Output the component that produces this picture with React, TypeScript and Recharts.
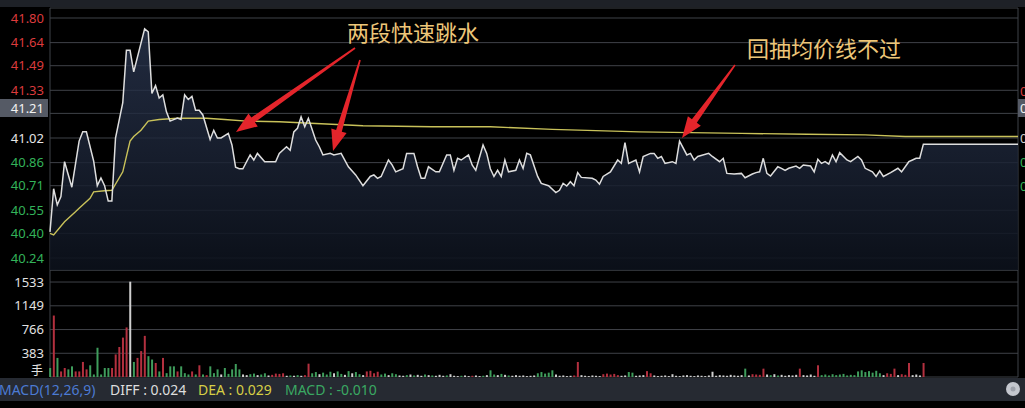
import React from "react";
import { ComposedChart, Area, Line, Bar, Cell, XAxis, YAxis, CartesianGrid } from "recharts";

// minute index: 0 = 9:30, 240 = 15:00, 240-266 = after-hours fixed price
const timeTicks = [0, 30, 60, 90, 120, 150, 180, 210, 240, 266];

const preClose = 41.02;
const priceTicks = [41.8, 41.64, 41.49, 41.33, 41.18, 41.02, 40.86, 40.71, 40.55, 40.4, 40.24];
const hiddenTick = 41.18; // covered by the 41.21 marker
const markerPrice = "41.21";

const pricePoints: [number, number][] = [
  [0, 40.41], [1, 40.69], [2, 40.585], [3, 40.64], [4, 40.866], [6, 40.7], [8, 41.0], [9, 41.06], [10, 41.06],
  [12, 40.87], [13, 40.71], [14, 40.76], [15, 40.71], [16, 40.61], [17, 40.61], [18, 41.02], [20, 41.25],
  [21, 41.59], [22, 41.59], [23, 41.45], [26, 41.73], [27, 41.71], [28, 41.31], [29, 41.36], [30, 41.28],
  [31, 41.3], [32, 41.19], [33, 41.13], [35, 41.15], [36, 41.14], [37, 41.3], [38, 41.27], [39, 41.29],
  [40, 41.2], [41, 41.2], [42, 41.17], [44, 41.01], [45, 41.07], [46, 41.02], [47, 41.02], [49, 41.05],
  [50, 40.975], [51, 40.83], [52, 40.82], [53, 40.82], [55, 40.91], [56, 40.877], [57, 40.92], [59, 40.866],
  [62, 40.866], [63, 40.92], [65, 40.963], [66, 40.94], [67, 41.06], [68, 41.083], [69, 41.158], [70, 41.093],
  [71, 41.148], [73, 41.007], [74, 40.963], [75, 40.91], [77, 40.92], [78, 40.91], [80, 40.92], [82, 40.833],
  [84, 40.78], [86, 40.71], [88, 40.77], [89, 40.78], [90, 40.758], [91, 40.77], [93, 40.877], [94, 40.845],
  [95, 40.8], [97, 40.82], [98, 40.92], [100, 40.92], [101, 40.833], [102, 40.758], [103, 40.758], [104, 40.833],
  [106, 40.8], [107, 40.8], [109, 40.91], [110, 40.91], [111, 40.81], [112, 40.888], [113, 40.877], [115, 40.91],
  [116, 40.845], [117, 40.81], [119, 40.975], [120, 40.92], [121, 40.82], [122, 40.77], [123, 40.81], [124, 40.77],
  [125, 40.877], [126, 40.8], [128, 40.81], [129, 40.877], [130, 40.823], [131, 40.92], [132, 40.91], [134, 40.77],
  [135, 40.725], [137, 40.71], [139, 40.665], [140, 40.68], [141, 40.725], [142, 40.708], [143, 40.736], [144, 40.71],
  [145, 40.795], [146, 40.764], [149, 40.758], [150, 40.747], [151, 40.72], [152, 40.77], [154, 40.8], [156, 40.877],
  [157, 40.855], [158, 40.99], [159, 40.855], [161, 40.877], [162, 40.8], [163, 40.9], [165, 40.92], [166, 40.92],
  [167, 40.888], [168, 40.9], [169, 40.855], [171, 40.866], [172, 40.855], [173, 41.0], [175, 40.91], [176, 40.92],
  [177, 40.877], [178, 40.9], [181, 40.92], [182, 40.9], [184, 40.866], [185, 40.888], [186, 40.79], [188, 40.786],
  [190, 40.79], [191, 40.762], [193, 40.786], [194, 40.795], [195, 40.8], [196, 40.888], [197, 40.79], [198, 40.773],
  [200, 40.833], [201, 40.823], [202, 40.81], [203, 40.823], [205, 40.838], [206, 40.823], [207, 40.845], [209, 40.838],
  [210, 40.8], [211, 40.882], [212, 40.855], [213, 40.866], [214, 40.85], [215, 40.91], [216, 40.866], [217, 40.925],
  [219, 40.877], [220, 40.866], [222, 40.9], [223, 40.877], [224, 40.823], [226, 40.8], [227, 40.77], [228, 40.807],
  [229, 40.77], [231, 40.795], [233, 40.823], [234, 40.8], [236, 40.866], [237, 40.877], [238, 40.888], [239, 40.888],
  [240, 40.98], [266, 40.98],
];

const avgPoints: [number, number][] = [
  [0, 40.4], [1, 40.39], [4, 40.476], [7, 40.54], [8, 40.563], [11, 40.628], [12, 40.67], [15, 40.677],
  [17, 40.68], [20, 40.8], [21, 40.9], [22, 41.0], [23, 41.03], [25, 41.07], [27, 41.13], [30, 41.14],
  [35, 41.148], [43, 41.148], [48, 41.14], [54, 41.13], [63, 41.126], [86, 41.1], [105, 41.093], [121, 41.093],
  [138, 41.076], [162, 41.06], [190, 41.05], [208, 41.044], [224, 41.04], [235, 41.03], [240, 41.03], [266, 41.03],
];

const volTicks = [383, 766, 1149, 1533];
// volume per minute, 0..240
const volumes = [
  145, 992, 308, 90, 145, 123, 172, 90, 90, 243,
  123, 189, 41, 472, 41, 145, 145, 145, 364, 484,
  636, 800, 1538, 243, 308, 418, 664, 336, 282, 226,
  90, 308, 62, 172, 172, 90, 172, 62, 41, 90,
  41, 189, 41, 30, 172, 62, 123, 41, 145, 50,
  123, 210, 123, 41, 30, 45, 55, 30, 40, 60,
  25, 35, 55, 50, 60, 20, 25, 20, 30, 20,
  30, 215, 60, 80, 45, 70, 40, 85, 60, 90,
  50, 35, 95, 60, 80, 45, 30, 90, 100, 60,
  85, 40, 55, 30, 60, 45, 25, 20, 30, 40,
  25, 35, 20, 40, 30, 25, 20, 35, 20, 25,
  45, 20, 15, 20, 25, 15, 20, 25, 15, 20,
  30, 108, 40, 30, 50, 35, 25, 20, 30, 20,
  25, 15, 20, 25, 60, 80, 55, 70, 108, 40,
  20, 25, 15, 20, 25, 242, 30, 20, 15, 25,
  20, 15, 45, 55, 40, 50, 30, 20, 25, 80,
  70, 20, 25, 30, 95, 60, 25, 15, 20, 25,
  15, 45, 20, 15, 25, 30, 20, 15, 25, 20,
  15, 25, 85, 20, 30, 25, 20, 35, 25, 20,
  30, 135, 25, 45, 40, 35, 135, 40, 30, 45,
  25, 35, 20, 30, 25, 35, 135, 30, 25, 40,
  20, 189, 30, 40, 25, 45, 30, 40, 50, 25,
  35, 30, 90, 108, 80, 95, 70, 100, 60, 30,
  60, 50, 135, 30, 45, 35, 226, 30, 40, 25,
  226,
];
// r = up, g = down, w = flat
const volDirs = [
  "grgrrggrrr", "rggggggrrr", "rrwgrrrggr", "grgggrgggr", "grgrgggwgg",
  "gggwwggwgg", "wrrrrwgwgw", "rrggwgggwg", "gwgwggwrrr", "rggwggwwgw",
  "gwwgwgwwwg", "wwwgwwrwwg", "wggwgwgwww", "wwwwgggggw", "wwwwrrwwww",
  "wwrrrrrwwg", "gwwwrrwwww", "wwwwwwwwww", "wwwwwwwwww", "wgwrrrrwgw",
  "gwwwwwrwww", "wrgggggggg", "gggggggggw", "rrrwrrrwww", "r",
].join("");

const macdItems = [
  { text: "MACD(12,26,9)", color: "#4c7bd3", x: -1 },
  { text: "DIFF : 0.024", color: "#dedede", x: 110 },
  { text: "DEA : 0.029", color: "#d6cf45", x: 198 },
  { text: "MACD : -0.010", color: "#3aa862", x: 285 },
];

const notes = [
  { text: "两段快速跳水", x: 347, y: 41 },
  { text: "回抽均价线不过", x: 747, y: 57 },
];
const arrows = [
  { from: [355, 48], to: [236, 132] },
  { from: [360, 60], to: [333, 151] },
  { from: [735, 65], to: [682, 138] },
];

const lineMinutes = Array.from(
  new Set([...pricePoints.map((p) => p[0]), ...avgPoints.map((p) => p[0])])
).sort((a, b) => a - b);
const priceMap = new Map(pricePoints);
const avgMap = new Map(avgPoints);
const lineData = lineMinutes.map((m) => ({
  m,
  price: priceMap.has(m) ? priceMap.get(m) : null,
  avg: avgMap.has(m) ? avgMap.get(m) : null,
}));
const volData = volumes.map((v, i) => ({ m: i, vol: v, dir: volDirs[i] }));

const RED = "#dc3b3d";
const GREEN = "#33b35a";
const GRID = "#3f4248";
const volColor: Record<string, string> = { r: "#b3303f", g: "#3f9d5c", w: "#cfcfcf" };

const PriceTick = (props: any) => {
  const { y, payload } = props;
  const v = payload.value as number;
  if (Math.abs(v - hiddenTick) < 1e-6) return null;
  const fill = Math.abs(v - preClose) < 1e-6 ? "#e6e6e6" : v > preClose ? RED : GREEN;
  return (
    <text x={44} y={y} dy={4.5} textAnchor="end" fill={fill} fontSize={13} fontFamily="'Noto Sans', sans-serif">
      {v.toFixed(2)}
    </text>
  );
};

const VolTick = (props: any) => {
  const { y, payload } = props;
  return (
    <text x={44} y={y} dy={4.5} textAnchor="end" fill="#e2e2e2" fontSize={13} fontFamily="'Noto Sans', sans-serif">
      {payload.value}
    </text>
  );
};

function arrowPoints(from: number[], to: number[]) {
  const [fx, fy] = from;
  const [tx, ty] = to;
  const len = Math.hypot(tx - fx, ty - fy);
  const ux = (tx - fx) / len;
  const uy = (ty - fy) / len;
  const nx = -uy;
  const ny = ux;
  const head = 21, hw = 8, bw = 3, tw = 0.8;
  const bx = tx - ux * head;
  const by = ty - uy * head;
  const pts = [
    [fx + nx * tw, fy + ny * tw],
    [bx + nx * bw, by + ny * bw],
    [bx + nx * hw, by + ny * hw],
    [tx, ty],
    [bx - nx * hw, by - ny * hw],
    [bx - nx * bw, by - ny * bw],
    [fx - nx * tw, fy - ny * tw],
  ];
  return pts.map((p) => `${p[0].toFixed(1)},${p[1].toFixed(1)}`).join(" ");
}

const rightMarks = [
  { text: "0.76%", color: RED, y: 91 },
  { text: "0.00%", color: "#d0d0d0", y: 138 },
  { text: "0.39%", color: GREEN, y: 162 },
  { text: "0.76%", color: GREEN, y: 186 },
];

export default function App() {
  return (
    <div
      style={{
        position: "absolute",
        left: 0,
        top: 0,
        width: 1025,
        height: 408,
        background: "#000",
        overflow: "hidden",
        fontFamily: "'Noto Sans', sans-serif",
      }}
    >
      <div style={{ position: "absolute", left: 0, top: 0, width: 1025, height: 7, background: "#1e2127" }} />

      <div style={{ position: "absolute", left: 0, top: 0 }}>
        <ComposedChart width={1025} height={272} data={lineData} margin={{ top: 8, right: 7, bottom: 2, left: 0 }}>
          <defs>
            <linearGradient id="priceFill" x1="0" y1="0" x2="0" y2="1">
              <stop offset="0%" stopColor="#2c3853" stopOpacity={0.75} />
              <stop offset="100%" stopColor="#0c111b" stopOpacity={0.9} />
            </linearGradient>
          </defs>
          <CartesianGrid stroke={GRID} />
          <XAxis
            dataKey="m"
            type="number"
            domain={[0, 266]}
            ticks={timeTicks}
            height={0}
            tick={false}
            axisLine={false}
            tickLine={false}
          />
          <YAxis
            domain={[40.162, 41.865]}
            allowDataOverflow
            ticks={priceTicks}
            interval={0}
            width={50}
            axisLine={false}
            tickLine={false}
            tick={(p: any) => <PriceTick {...p} />}
          />
          <Area
            dataKey="price"
            type="linear"
            stroke="none"
            fill="url(#priceFill)"
            fillOpacity={1}
            connectNulls
            isAnimationActive={false}
          />
          <Line
            dataKey="avg"
            type="linear"
            stroke="#c9c25a"
            strokeWidth={1.4}
            dot={false}
            activeDot={false}
            connectNulls
            isAnimationActive={false}
          />
          <Line
            dataKey="price"
            type="linear"
            stroke="#dedede"
            strokeWidth={1.5}
            dot={false}
            activeDot={false}
            connectNulls
            isAnimationActive={false}
          />
        </ComposedChart>
      </div>

      <div style={{ position: "absolute", left: 0, top: 270 }}>
        <ComposedChart width={1025} height={108} data={volData} margin={{ top: 0, right: 7, bottom: 1, left: 0 }}>
          <CartesianGrid stroke={GRID} />
          <XAxis
            dataKey="m"
            type="number"
            domain={[0, 266]}
            ticks={timeTicks}
            height={0}
            tick={false}
            axisLine={false}
            tickLine={false}
          />
          <YAxis
            domain={[0, 1727]}
            allowDataOverflow
            ticks={volTicks}
            interval={0}
            width={50}
            axisLine={false}
            tickLine={false}
            tick={(p: any) => <VolTick {...p} />}
          />
          <Bar dataKey="vol" barSize={2} isAnimationActive={false}>
            {volData.map((d, i) => (
              <Cell key={`v-${i}`} fill={volColor[d.dir]} />
            ))}
          </Bar>
        </ComposedChart>
      </div>

      <div style={{ position: "absolute", left: 31, top: 364, fontSize: 12, color: "#e2e2e2", lineHeight: "12px", fontFamily: "'Noto Sans CJK SC', sans-serif" }}>
        手
      </div>

      <div
        style={{
          position: "absolute",
          left: 0,
          top: 99,
          width: 48,
          height: 18,
          background: "#555a65",
          color: "#f2f2f2",
          fontSize: 13,
          lineHeight: "18px",
          textAlign: "right",
          paddingRight: 4,
          boxSizing: "border-box",
        }}
      >
        {markerPrice}
      </div>

      <div style={{ position: "absolute", left: 1018, top: 99, width: 10, height: 18, background: "#555a65" }} />
      <div style={{ position: "absolute", left: 1020, top: 99, fontSize: 13, lineHeight: "18px", color: "#f2f2f2", whiteSpace: "nowrap" }}>
        0.46%
      </div>
      {rightMarks.map((r, i) => (
        <div
          key={`rm-${i}`}
          style={{ position: "absolute", left: 1020, top: r.y - 9, fontSize: 13, lineHeight: "18px", color: r.color, whiteSpace: "nowrap" }}
        >
          {r.text}
        </div>
      ))}

      <div style={{ position: "absolute", left: 0, top: 378, width: 1025, height: 23, background: "#262a32" }} />
      <svg width={1025} height={408} style={{ position: "absolute", left: 0, top: 0, pointerEvents: "none" }}>
        {macdItems.map((m, i) => (
          <text key={`m-${i}`} x={m.x} y={395} fill={m.color} fontSize={14} fontFamily="'Noto Sans', sans-serif">
            {m.text}
          </text>
        ))}
        <circle cx={1013} cy={389} r={7} fill="#c4c7ce" />
        <circle cx={1013} cy={389} r={2.5} fill="#9da1aa" />

        {arrows.map((a, i) => (
          <polygon key={`a-${i}`} points={arrowPoints(a.from, a.to)} fill="#e4252b" />
        ))}
        {notes.map((n, i) => (
          <text
            key={`n-${i}`}
            x={n.x}
            y={n.y}
            fill="#edc679"
            fontSize={22}
            fontFamily="'Noto Sans CJK SC', sans-serif"
          >
            {n.text}
          </text>
        ))}
      </svg>
    </div>
  );
}
